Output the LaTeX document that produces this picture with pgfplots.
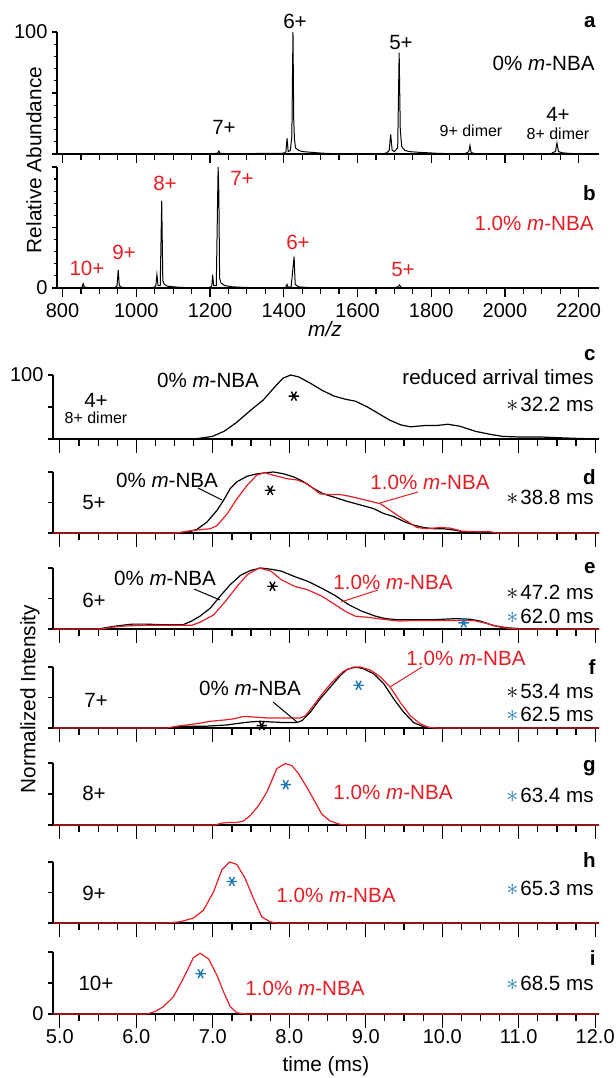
\documentclass[border=0pt]{standalone}
\usepackage{pgfplots}
\pgfplotsset{compat=1.18}
\usepackage{fontspec}
\setmainfont{Liberation Sans}
\definecolor{nred}{RGB}{227,30,36}
\definecolor{nblue}{RGB}{31,119,180}
\newcommand\ann{\fontsize{10.3}{12}\selectfont}
\newcommand\sml{\fontsize{8}{9.5}\selectfont}
\newcommand\nba{\textit{m}-NBA}
\newcommand\tast{{\fontsize{13}{13}\selectfont\smash{$\ast$}}}
\newcommand\bast{{\color{nblue}\tast}}

\pgfplotsset{
  panel/.style={scale only axis, anchor=south west, clip=false,
    axis x line=bottom, axis y line=left,
    axis line style={-, line width=0.6pt},
    tick align=outside, tick style={line width=0.6pt, black},
    /pgf/number format/assume math mode=true,
    /pgf/number format/set thousands separator={},
    tick label style={font=\fontsize{10}{12}\selectfont},
    yticklabel style={xshift=3pt},
    ymin=0, ymax=100, ytick={0,50,100},
    y tick style={/pgfplots/major tick length=2.5pt, /pgfplots/minor tick length=1.5pt}},
  ms/.style={panel, width=271pt, xmin=785, xmax=2255,
    xtick={800,1000,...,2200}, minor x tick num=3, minor y tick num=4,
    x tick style={/pgfplots/major tick length=4.5pt, /pgfplots/minor tick length=3pt}},
  tp/.style={panel, width=273pt, xmin=4.91, xmax=12.05,
    xtick={5,6,...,12}, minor x tick num=3,
    x tick style={/pgfplots/major tick length=7pt, /pgfplots/minor tick length=3.5pt}},
  blk/.style={black, line width=0.6pt},
  rd/.style={nred, line width=0.6pt},
  sa/.style={only marks, mark=asterisk, mark size=2.6pt, mark options={rotate=90, line width=0.7pt}},
}

\begin{document}
\begin{tikzpicture}
\useasboundingbox (0,0) rectangle (308pt,539pt);

% a: 0% m-NBA spectrum
\begin{axis}[ms, at={(28.5pt,462pt)}, height=61pt, yticklabels={,,100}, xticklabels={}]
\addplot[black, line width=0.5pt] coordinates {
(785,0.3)(1210,0.3)(1220,0.6)(1224,2.5)(1227,0.6)(1240,0.3)
(1395,0.5)(1403,1)(1406,2)(1409,13)(1412,2)(1418,3)(1422,15)(1425,100)(1427,29)(1429,12)(1432,5)(1440,3)(1450,2)(1470,1.5)(1490,1)(1510,0.6)(1530,0.3)
(1670,0.3)(1680,1)(1686,3)(1690,16)(1694,3)(1700,2)(1709,5)(1713,83)(1716,20)(1720,6)(1728,3)(1740,2)(1760,1.5)(1790,1)(1820,0.5)(1850,0.3)
(1890,0.3)(1897,1)(1902,2)(1905,7)(1908,1.5)(1915,0.5)(1925,0.3)
(2125,0.3)(2132,1.5)(2137,2)(2141,9)(2145,2)(2155,1)(2170,0.6)(2190,0.3)(2255,0.3)
};
\end{axis}

% b: 1.0% m-NBA spectrum
\begin{axis}[ms, at={(28.5pt,395pt)}, height=60.5pt, yticklabels={0,,}]
\addplot[black, line width=0.5pt] coordinates {
(785,0.3)(850,0.3)(853,0.8)(856,3.5)(859,0.8)(870,0.3)
(940,0.3)(945,1)(948,2)(951,15)(954,2)(960,0.5)(975,0.3)
(1045,0.3)(1050,1)(1053,2)(1056,11)(1059,2)(1065,2)(1069,72)(1072,6)(1076,3)(1085,1.5)(1100,1)(1120,0.5)(1140,0.3)
(1195,0.3)(1202,1)(1205,2)(1207,11)(1210,2)(1217,2)(1222,100)(1224,78)(1226,8)(1230,4)(1240,2)(1260,1)(1290,0.5)(1320,0.3)
(1400,0.3)(1405,0.5)(1409,3)(1412,0.5)(1420,1)(1428,26)(1431,3)(1440,1)(1460,0.5)(1480,0.3)
(1700,0.3)(1710,1)(1714,2.5)(1718,0.5)(1730,0.3)(2255,0.3)
};
\end{axis}

% c: 4+
\begin{axis}[tp, at={(26.5pt,319.5pt)}, height=32pt, yticklabels={,,100}, xticklabels={}]
\addplot[blk] coordinates {
(4.91,0)(6.5,0)(6.787,0.5)(6.993,4)(7.147,12)(7.301,25)(7.506,46)(7.660,61)(7.815,82)(7.917,95)(8.020,100)(8.123,97)(8.277,87)(8.431,76)(8.585,67)(8.739,62)(8.867,59)(9.022,50)(9.150,41)(9.304,30)(9.458,22)(9.586,19)(9.766,21)(9.920,21)(10.074,23)(10.229,20)(10.434,12)(10.639,7)(10.794,4)(11.050,3)(11.307,3)(11.513,2)(11.923,0.3)(12.05,0)
};
\addplot[sa, black] coordinates {(8.06,67)};
\end{axis}

% d: 5+
\begin{axis}[tp, at={(26.5pt,272.5pt)}, height=30.5pt, yticklabels={}, xticklabels={}]
\addplot[blk] coordinates {
(4.91,0)(6.532,0)(6.662,1)(6.793,6)(6.924,18)(7.054,37)(7.142,54)(7.229,73)(7.316,84)(7.447,93)(7.577,97)(7.708,99)(7.795,100)(7.926,97)(8.057,92)(8.187,84)(8.318,73)(8.449,64)(8.580,59)(8.754,52)(8.928,46)(9.102,40)(9.233,32)(9.364,27)(9.495,19)(9.625,13)(9.756,9)(9.887,7)(10.017,7)(10.148,5)(10.279,2)(10.453,1)(10.715,0)(12.05,0)
};
\addplot[rd] coordinates {
(4.91,0)(6.532,0)(6.662,3)(6.837,5.5)(6.967,7)(7.054,12)(7.185,31)(7.316,56)(7.447,78)(7.577,95)(7.686,99)(7.752,96)(7.882,92)(7.969,89)(8.100,87)(8.231,81)(8.405,64)(8.536,63)(8.667,63)(8.797,60)(8.928,56)(9.059,52)(9.190,48)(9.320,37)(9.451,26)(9.582,16)(9.669,9)(9.800,7)(9.974,9)(10.105,8)(10.257,3)(10.453,2)(10.627,2)(10.715,0)(12.05,0)
};
\addplot[sa, black] coordinates {(7.75,70)};
\end{axis}

% e: 6+
\begin{axis}[tp, at={(26.5pt,224.5pt)}, height=30.5pt, yticklabels={}, xticklabels={}]
\addplot[blk] coordinates {
(4.91,0)(5.508,0)(5.640,3)(5.773,5.5)(5.949,8)(6.126,8)(6.347,7)(6.611,7)(6.722,13)(6.832,21)(6.965,34)(7.097,54)(7.230,73)(7.362,88)(7.494,96)(7.627,100)(7.759,98)(7.892,95)(8.068,86)(8.245,78)(8.422,67)(8.598,55)(8.775,40)(8.951,29)(9.128,21)(9.260,17)(9.437,15)(9.614,15)(9.834,15)(10.011,16)(10.188,17)(10.364,16)(10.497,13)(10.673,5.5)(10.850,2)(11.071,0)(12.05,0)
};
\addplot[rd] coordinates {
(4.91,0)(5.552,0)(5.684,3)(5.861,5)(6.082,6)(6.435,6)(6.722,6)(6.832,11)(7.009,23)(7.163,45)(7.318,70)(7.450,89)(7.605,100)(7.759,95)(7.892,81)(8.068,70)(8.245,64)(8.422,54)(8.598,40)(8.731,29)(8.863,21)(9.040,19)(9.216,16)(9.437,13)(9.614,14)(9.834,14)(10.055,14)(10.232,14)(10.408,14)(10.585,9)(10.762,3)(10.894,0.5)(11.026,0)(12.05,0)
};
\addplot[sa, black] coordinates {(7.78,70)};
\addplot[sa, nblue] coordinates {(10.28,10)};
\end{axis}

% f: 7+
\begin{axis}[tp, at={(26.5pt,175pt)}, height=30.5pt, yticklabels={}, xticklabels={}]
\addplot[blk] coordinates {
(4.91,0)(6.401,0)(6.532,2)(6.706,3)(6.924,3)(7.185,5)(7.359,8)(7.490,10)(7.621,11)(7.752,10)(7.926,9)(8.100,9)(8.166,12)(8.275,26)(8.405,48)(8.536,67)(8.667,86)(8.754,96)(8.841,99)(8.906,99)(8.972,97)(9.102,89)(9.233,73)(9.364,48)(9.495,26)(9.625,9)(9.756,2)(9.887,0)(12.05,0)
};
\addplot[rd] coordinates {
(4.91,0)(6.401,0)(6.532,3)(6.662,5)(6.837,8)(6.967,11)(7.142,13)(7.272,15)(7.403,19)(7.534,18)(7.708,16.5)(7.969,16.5)(8.144,16.5)(8.209,20)(8.318,37)(8.449,59)(8.580,78)(8.710,93)(8.841,100)(8.928,100)(9.059,95)(9.190,84)(9.320,67)(9.451,42)(9.582,20)(9.713,7)(9.821,1)(9.930,0)(12.05,0)
};
\addplot[sa, nblue] coordinates {(8.906,70)};
\addplot[sa, black] coordinates {(7.64,4)};
\end{axis}

% g: 8+
\begin{axis}[tp, at={(26.5pt,126.5pt)}, height=31pt, yticklabels={}, xticklabels={}]
\addplot[rd] coordinates {
(4.91,0)(7.031,0)(7.118,3)(7.205,4)(7.314,4)(7.401,6.5)(7.488,15)(7.597,31)(7.706,53)(7.837,91)(7.946,99)(8.033,96)(8.120,83)(8.229,61)(8.338,37)(8.425,17.5)(8.534,6.5)(8.665,1)(8.8,0)(12.05,0)
};
\addplot[sa, nblue] coordinates {(7.954,65)};
\end{axis}

% h: 9+
\begin{axis}[tp, at={(26.5pt,77.5pt)}, height=30.5pt, yticklabels={}, xticklabels={}]
\addplot[rd] coordinates {
(4.91,0)(6.4,0)(6.573,2)(6.747,8)(6.878,21)(7.009,51)(7.118,87)(7.218,100)(7.314,96)(7.423,73)(7.532,40)(7.641,10)(7.749,2)(7.837,0)(12.05,0)
};
\addplot[sa, nblue] coordinates {(7.25,68)};
\end{axis}

% i: 10+
\begin{axis}[tp, at={(26.5pt,32pt)}, height=31pt, yticklabels={0,,},
  xticklabel style={/pgf/number format/.cd, fixed, fixed zerofill, precision=1}]
\addplot[rd] coordinates {
(4.91,0)(6.137,0)(6.246,4)(6.355,12)(6.486,28)(6.617,58)(6.747,91)(6.834,98)(6.943,89)(7.052,63)(7.139,36)(7.227,12)(7.314,2)(7.423,0)(12.05,0)
};
\addplot[sa, nblue] coordinates {(6.84,65)};
\end{axis}

% annotations, placed in image pixel units
\begin{scope}[x=0.5pt, y=-0.5pt, yshift=539pt, every node/.style={inner sep=1pt}]
\node[rotate=90, font=\fontsize{10.4}{12}\selectfont] at (34,160) {Relative Abundance};
\node[rotate=90, font=\fontsize{10.4}{12}\selectfont] at (30,699) {Normalized Intensity};
\node[font=\fontsize{10.4}{12}\selectfont\itshape] at (325,329) {m/z};
\node[font=\fontsize{10.4}{12}\selectfont] at (326,1066) {time (ms)};

\begin{scope}[font=\ann]
% a
\node[anchor=east] at (598,22) {\textbf{a}};
\node[anchor=east] at (597,63) {0\% \nba};
\node at (295,21) {6+};
\node at (401,43) {5+};
\node at (224,127) {7+};
\node at (558,114) {4+};
\node[font=\sml] at (471,131) {9+ dimer};
\node[font=\sml] at (558,134) {8+ dimer};
% b
\node[anchor=east] at (598,193) {\textbf{b}};
\node[anchor=east, nred] at (596,223) {1.0\% \nba};
\node[nred] at (165,183) {8+};
\node[nred] at (242,178) {7+};
\node[nred] at (124,252) {9+};
\node[nred] at (87,268) {10+};
\node[nred] at (298,242) {6+};
\node[nred] at (403,270) {5+};
% c
\node[anchor=east] at (598,355) {\textbf{c}};
\node[anchor=east] at (596,377) {reduced arrival times};
\node[anchor=east] at (596,404) {\tast\kern1pt32.2 ms};
\node at (208,380) {0\% \nba};
\node at (96,400) {4+};
\node[font=\sml] at (96,418) {8+ dimer};
% d
\node[anchor=east] at (598,477) {\textbf{d}};
\node[anchor=east] at (596,497) {\tast\kern1pt38.8 ms};
\node at (94,503) {5+};
\node at (167,480) {0\% \nba};
\node[nred] at (430,482) {1.0\% \nba};
\draw[line width=0.5pt] (198,488) -- (222,500);
\draw[nred, line width=0.5pt] (418,492) -- (380,503);
% e
\node[anchor=east] at (598,568) {\textbf{e}};
\node[anchor=east] at (596,592) {\tast\kern1pt47.2 ms};
\node[anchor=east] at (596,616) {\bast\kern1pt62.0 ms};
\node at (94,600) {6+};
\node at (165,578) {0\% \nba};
\node[nred] at (393,582) {1.0\% \nba};
\draw[line width=0.5pt] (194,589) -- (220,600);
\draw[nred, line width=0.5pt] (378,590) -- (341,602);
% f
\node[anchor=east] at (598,667) {\textbf{f}};
\node[anchor=east] at (596,691) {\tast\kern1pt53.4 ms};
\node[anchor=east] at (596,714) {\bast\kern1pt62.5 ms};
\node at (96,700) {7+};
\node at (250,688) {0\% \nba};
\node[nred] at (466,658) {1.0\% \nba};
\draw[line width=0.5pt] (273,702) -- (297,722);
\draw[nred, line width=0.5pt] (422,667) -- (390,687);
% g
\node[anchor=east] at (598,768) {\textbf{g}};
\node[anchor=east] at (596,795) {\bast\kern1pt63.4 ms};
\node at (94,793) {8+};
\node[nred] at (393,792) {1.0\% \nba};
% h
\node[anchor=east] at (598,860) {\textbf{h}};
\node[anchor=east] at (596,888) {\bast\kern1pt65.3 ms};
\node at (94,893) {9+};
\node[nred] at (336,895) {1.0\% \nba};
% i
\node[anchor=east] at (598,958) {\textbf{i}};
\node[anchor=east] at (596,983) {\bast\kern1pt68.5 ms};
\node at (96,983) {10+};
\node[nred] at (305,988) {1.0\% \nba};
\end{scope}
\end{scope}
\end{tikzpicture}
\end{document}
